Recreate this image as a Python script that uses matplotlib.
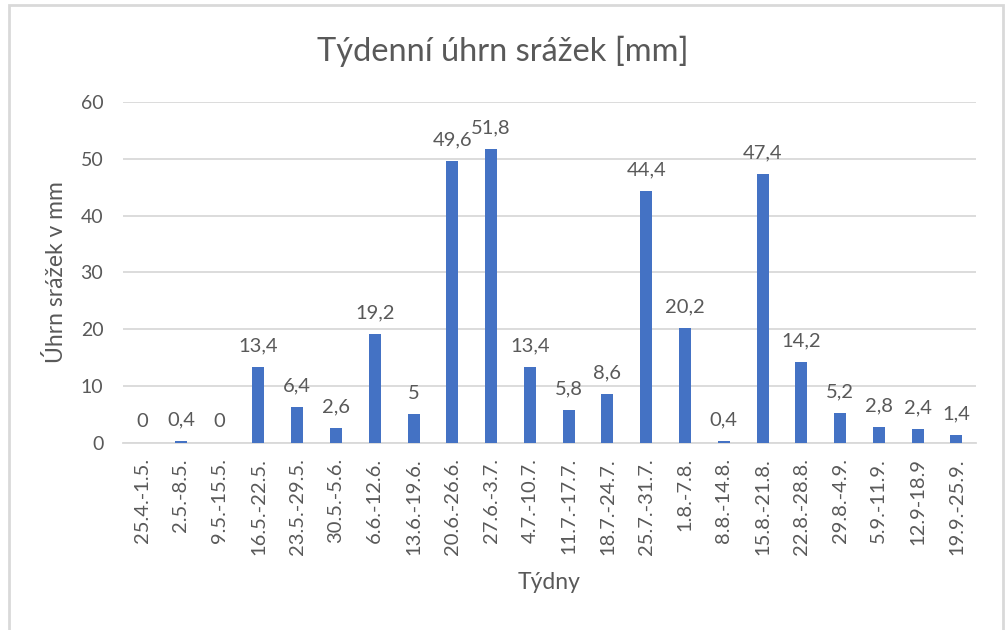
import matplotlib.pyplot as plt
from matplotlib.patches import Rectangle

weeks = [
    "25.4.-1.5.", "2.5.-8.5.", "9.5.-15.5.", "16.5.-22.5.", "23.5.-29.5.",
    "30.5.-5.6.", "6.6.-12.6.", "13.6.-19.6.", "20.6.-26.6.", "27.6.-3.7.",
    "4.7.-10.7.", "11.7.-17.7.", "18.7.-24.7.", "25.7.-31.7.", "1.8.-7.8.",
    "8.8.-14.8.", "15.8.-21.8.", "22.8.-28.8.", "29.8.-4.9.", "5.9.-11.9.",
    "12.9-18.9", "19.9.-25.9.",
]
rain_mm = [0, 0.4, 0, 13.4, 6.4, 2.6, 19.2, 5, 49.6, 51.8, 13.4, 5.8, 8.6,
           44.4, 20.2, 0.4, 47.4, 14.2, 5.2, 2.8, 2.4, 1.4]
y_ticks = [0, 10, 20, 30, 40, 50, 60]

plt.rcParams["font.family"] = ["Lato", "DejaVu Sans"]
text_color = "#595959"

fig = plt.figure(figsize=(10.06, 6.3), dpi=100)
ax = fig.add_axes([0.122, 0.297, 0.848, 0.541])

x = range(len(weeks))
ax.bar(x, rain_mm, width=0.31, color="#4472C4", zorder=3)

for xi, v in zip(x, rain_mm):
    label = f"{v:g}".replace(".", ",")
    ax.annotate(label, (xi, v), xytext=(0, 9), textcoords="offset points",
                ha="center", va="bottom", fontsize=14.5, color=text_color)

ax.set_xlim(-0.5, len(weeks) - 0.5)
ax.set_ylim(0, 60)
ax.set_yticks(y_ticks)
ax.set_yticklabels([str(t) for t in y_ticks], fontsize=14, color=text_color)
ax.set_xticks(list(x))
ax.set_xticklabels(weeks, rotation=90, fontsize=14.5, color=text_color)
ax.tick_params(axis="y", length=0, pad=14)
ax.tick_params(axis="x", length=0, pad=11)
ax.grid(axis="y", color="#D9D9D9", linewidth=1.3, zorder=0)
for side in ["top", "right", "left"]:
    ax.spines[side].set_visible(False)
ax.spines["bottom"].set_color("#D9D9D9")
ax.spines["bottom"].set_linewidth(1.3)

ax.set_ylabel("Úhrn srážek v mm", fontsize=16.5, color=text_color, labelpad=10)
ax.set_xlabel("Týdny", fontsize=16.5, color=text_color, labelpad=12)
fig.text(0.5, 0.918, "Týdenní úhrn srážek [mm]", ha="center", va="center",
         fontsize=23.5, color=text_color)

# chart frame
fig.patches.append(Rectangle((0.009, -0.1), 0.988, 1.092, transform=fig.transFigure,
                             fill=False, edgecolor="#D9D9D9", linewidth=2))

fig.savefig("out.png", dpi=100)
